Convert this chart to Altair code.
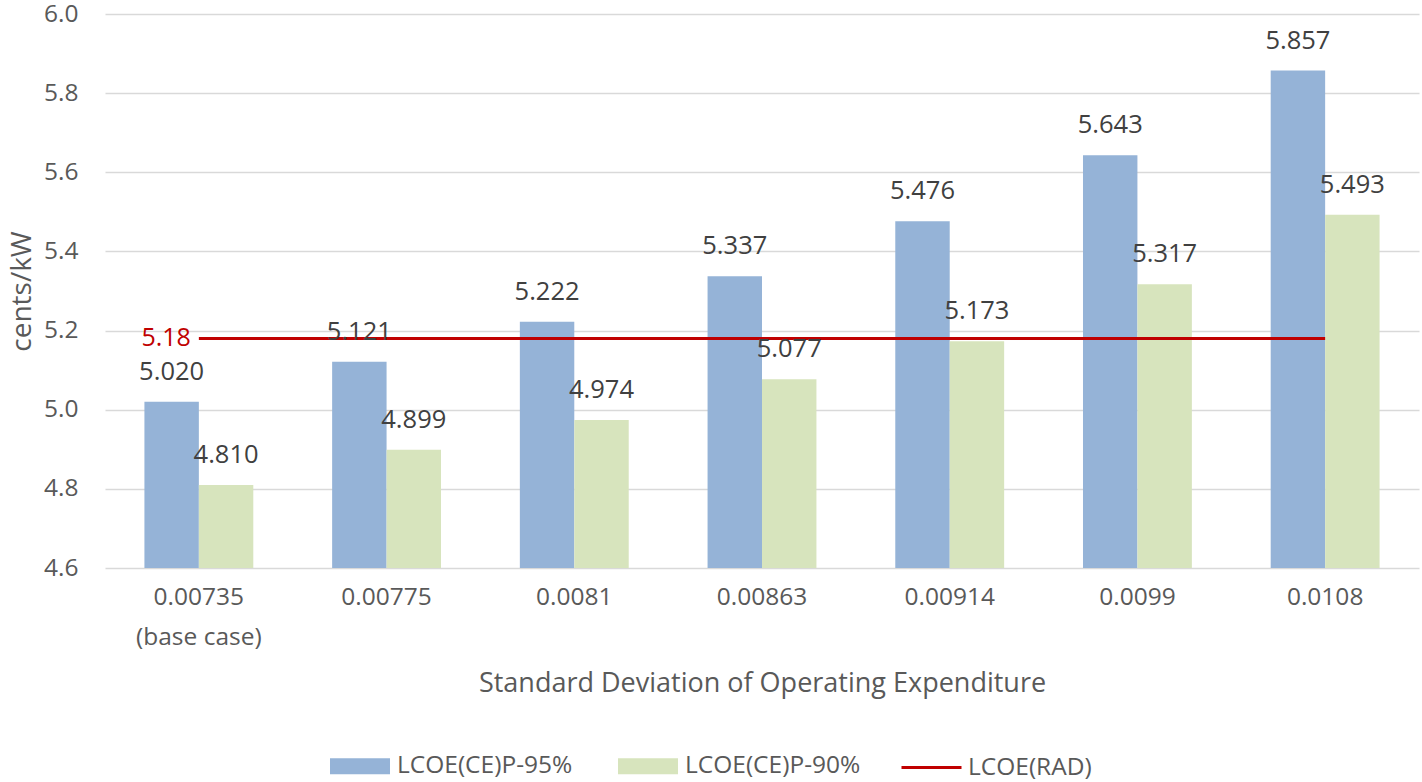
import altair as alt
import pandas as pd

categories = ["0.00735 (base case)", "0.00775", "0.0081", "0.00863", "0.00914", "0.0099", "0.0108"]
series_names = ["LCOE(CE)P-95%", "LCOE(CE)P-90%"]
p95 = [5.020, 5.121, 5.222, 5.337, 5.476, 5.643, 5.857]
p90 = [4.810, 4.899, 4.974, 5.077, 5.173, 5.317, 5.493]
rad_name = "LCOE(RAD)"
rad_value = 5.18

rows = []
for c, a, b in zip(categories, p95, p90):
    rows.append({"cat": c, "series": series_names[0], "value": a})
    rows.append({"cat": c, "series": series_names[1], "value": b})
bars_df = pd.DataFrame(rows)
rad_df = pd.DataFrame({"cat": categories, "series": rad_name, "value": rad_value})
rad_label_df = pd.DataFrame({"cat": [categories[0]], "value": [rad_value], "txt": ["5.18"]})

FONT = "Open Sans"
GREY = "#595959"

x_enc = alt.X(
    "cat:N",
    sort=categories,
    scale=alt.Scale(paddingInner=0.42, paddingOuter=0.21),
    axis=alt.Axis(
        title="Standard Deviation of Operating Expenditure",
        labelAngle=0,
        labelFontSize=24.5,
        labelColor=GREY,
        labelFont=FONT,
        labelPadding=17,
        labelLineHeight=40,
        labelExpr="datum.value == '0.00735 (base case)' ? ['0.00735', '(base case)'] : datum.value",
        ticks=False,
        domain=False,
        titleFontSize=27,
        titleFont=FONT,
        titleColor=GREY,
        titleFontWeight="normal",
        titlePadding=22,
    ),
)
y_scale = alt.Scale(domain=[4.6, 6.0], nice=False, zero=False)
y_axis = alt.Axis(
    title="cents/kW",
    values=[4.6, 4.8, 5.0, 5.2, 5.4, 5.6, 5.8, 6.0],
    format=".1f",
    labelFontSize=24.5,
    labelColor=GREY,
    labelFont=FONT,
    labelPadding=27,
    ticks=False,
    domain=False,
    grid=True,
    gridColor="#d9d9d9",
    gridWidth=1.5,
    titleFontSize=28,
    titleFont=FONT,
    titleColor=GREY,
    titleFontWeight="normal",
    titlePadding=7,
)
xoff = alt.XOffset("series:N", sort=series_names, scale=alt.Scale(paddingInner=0, paddingOuter=0))

bars = alt.Chart(bars_df).mark_bar(clip=True).encode(
    x=x_enc,
    xOffset=xoff,
    y=alt.Y("value:Q", scale=y_scale, axis=y_axis),
    color=alt.Color(
        "series:N",
        sort=series_names,
        scale=alt.Scale(domain=series_names, range=["#95B3D7", "#D7E4BD"]),
        legend=alt.Legend(
            title=None,
            orient="none",
            direction="horizontal",
            legendX=225,
            legendY=722,
            symbolType="M-1,-0.267H1V0.267H-1Z",
            symbolSize=3600,
            symbolStrokeWidth=0,
            labelFontSize=24.5,
            labelFont=FONT,
            labelColor=GREY,
            labelOffset=7,
            labelLimit=400,
            columnPadding=45,
            padding=0,
        ),
    ),
)

labels = alt.Chart(bars_df).mark_text(
    dy=-30, fontSize=25.5, font=FONT, color="#404040", baseline="middle"
).encode(
    x=alt.X("cat:N", sort=categories),
    xOffset=xoff,
    y=alt.Y("value:Q", scale=y_scale),
    text=alt.Text("value:Q", format=".3f"),
)

line = alt.Chart(rad_df).mark_line(strokeWidth=3).encode(
    x=alt.X("cat:N", sort=categories),
    y=alt.Y("value:Q", scale=y_scale),
    stroke=alt.Stroke(
        "series:N",
        scale=alt.Scale(domain=[rad_name], range=["#C00000"]),
        legend=alt.Legend(
            title=None,
            orient="none",
            direction="horizontal",
            legendX=795,
            legendY=722,
            symbolType="stroke",
            symbolSize=3600,
            symbolStrokeWidth=3,
            labelFontSize=24.5,
            labelFont=FONT,
            labelColor=GREY,
            labelOffset=5,
            labelLimit=400,
            padding=0,
        ),
    ),
)

rad_label = alt.Chart(rad_label_df).mark_text(
    align="right", baseline="middle", dx=-8, fontSize=25, font=FONT, color="#C00000"
).encode(
    x=alt.X("cat:N", sort=categories),
    y=alt.Y("value:Q", scale=y_scale),
    text="txt:N",
)

chart = (
    alt.layer(bars, line, labels, rad_label)
    .properties(
        width=1314,
        height=554,
        autosize=alt.AutoSizeParams(type="none"),
        padding={"left": 105, "top": 14, "right": 3, "bottom": 214},
        background="white",
    )
    .configure_view(stroke=None)
)

chart.save("out.html", embed_options={"renderer": "svg", "actions": False})
